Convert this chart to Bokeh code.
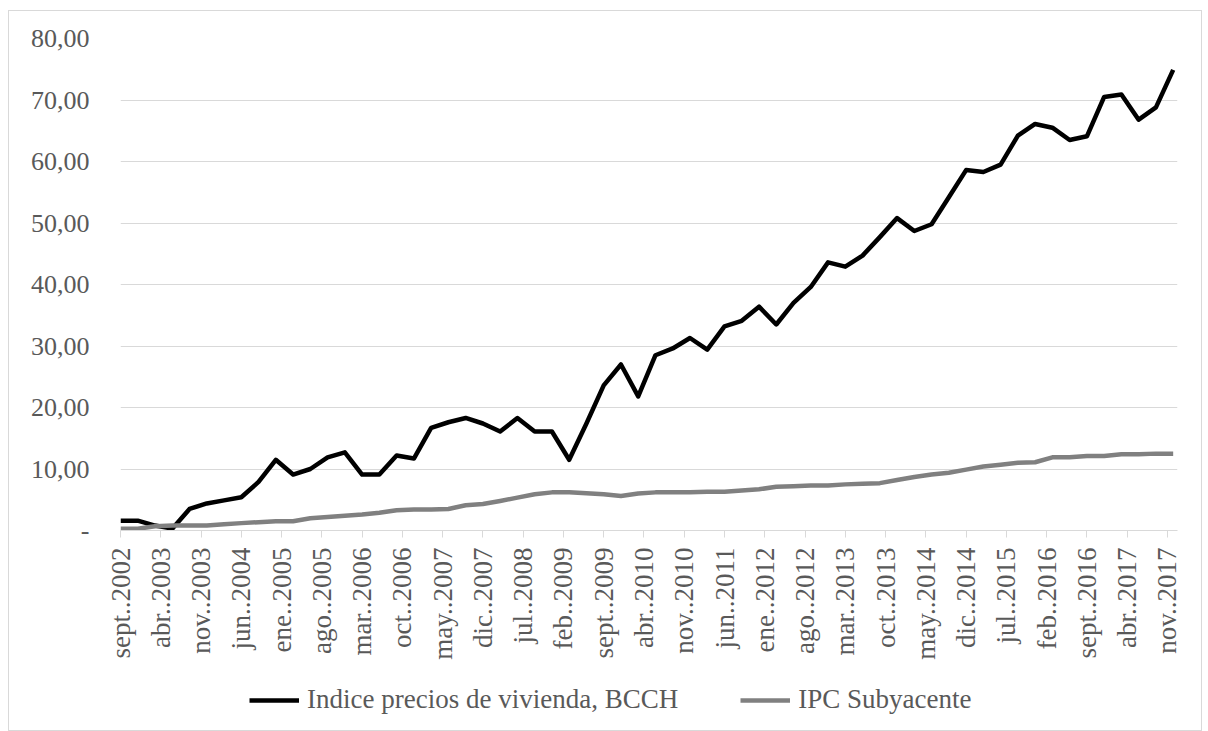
import pandas as pd
from bokeh.plotting import figure
from bokeh.layouts import column
from bokeh.models import Range1d, FixedTicker, Legend, LegendItem
from bokeh.embed import file_html
from bokeh.resources import INLINE

# Quarterly observations, sept 2002 .. dic 2017
fechas = pd.date_range("2002-09-01", "2017-12-01", freq="3MS")

vivienda = [1.6, 1.6, 0.8, 0.3, 3.5, 4.4, 4.9, 5.4, 7.9, 11.5,
            9.1, 10.0, 11.9, 12.7, 9.1, 9.1, 12.2, 11.7, 16.7, 17.6,
            18.3, 17.4, 16.1, 18.3, 16.1, 16.1, 11.5, 17.4, 23.6, 27.0,
            21.8, 28.5, 29.6, 31.3, 29.4, 33.2, 34.1, 36.4, 33.5, 37.0,
            39.6, 43.6, 42.9, 44.7, 47.7, 50.8, 48.7, 49.8, 54.2, 58.6,
            58.3, 59.5, 64.2, 66.1, 65.5, 63.5, 64.1, 70.5, 70.9, 66.8,
            68.8, 74.9]

ipc = [0.3, 0.3, 0.7, 0.8, 0.8, 0.8, 1.0, 1.2, 1.35, 1.5,
       1.5, 2.0, 2.2, 2.4, 2.6, 2.9, 3.3, 3.4, 3.4, 3.5,
       4.1, 4.3, 4.8, 5.35, 5.9, 6.2, 6.2, 6.05, 5.9, 5.6,
       6.0, 6.2, 6.2, 6.2, 6.3, 6.3, 6.5, 6.7, 7.1, 7.2,
       7.3, 7.3, 7.5, 7.6, 7.7, 8.2, 8.7, 9.1, 9.4, 9.9,
       10.4, 10.7, 11.0, 11.1, 11.9, 11.9, 12.1, 12.1, 12.4, 12.4,
       12.5, 12.5]

x_labels = ["sept..2002", "abr..2003", "nov..2003", "jun..2004", "ene..2005",
            "ago..2005", "mar..2006", "oct..2006", "may..2007", "dic..2007",
            "jul..2008", "feb..2009", "sept..2009", "abr..2010", "nov..2010",
            "jun..2011", "ene..2012", "ago..2012", "mar..2013", "oct..2013",
            "may..2014", "dic..2014", "jul..2015", "feb..2016", "sept..2016",
            "abr..2017", "nov..2017"]
tick_months = list(range(0, 7 * len(x_labels), 7))

y_ticks = [0, 10, 20, 30, 40, 50, 60, 70, 80]
y_labels = ["-", "10,00", "20,00", "30,00", "40,00", "50,00", "60,00", "70,00", "80,00"]

serie1 = "Indice precios de vivienda, BCCH"
serie2 = "IPC Subyacente"

x = [(d.year - 2002) * 12 + (d.month - 9) for d in fechas]

FONT = "Liberation Serif"
TXT = "#595959"
GRID = "#d9d9d9"
C1 = "black"
C2 = "#808080"
LW = 4.5

p = figure(width=1192, height=660, output_backend="svg", toolbar_location=None,
           x_range=Range1d(0, 183.75), y_range=Range1d(0, 80),
           min_border_left=111, min_border_right=24, min_border_top=27,
           min_border_bottom=141)
p.outline_line_color = None
p.background_fill_color = "white"
p.border_fill_color = "white"

r1 = p.line(x, vivienda, line_color=C1, line_width=LW, line_join="round")
r2 = p.line(x, ipc, line_color=C2, line_width=LW, line_join="round")

p.xgrid.grid_line_color = None
p.ygrid.grid_line_color = GRID
p.ygrid.grid_line_width = 1

xa = p.xaxis[0]
xa.ticker = FixedTicker(ticks=tick_months)
xa.major_label_overrides = {m: l for m, l in zip(tick_months, x_labels)}
xa.major_label_orientation = 1.5707963267948966
xa.axis_line_color = GRID
xa.major_tick_line_color = GRID
xa.major_tick_in = 0
xa.major_tick_out = 7
xa.minor_tick_line_color = None
xa.major_label_standoff = 10
xa.major_label_text_font = FONT
xa.major_label_text_font_size = "27px"
xa.major_label_text_color = TXT

ya = p.yaxis[0]
ya.ticker = FixedTicker(ticks=y_ticks)
ya.major_label_overrides = {t: l for t, l in zip(y_ticks, y_labels)}
ya.axis_line_color = None
ya.major_tick_line_color = None
ya.minor_tick_line_color = None
ya.major_tick_in = 0
ya.major_tick_out = 0
ya.major_label_standoff = 31
ya.major_label_text_font = FONT
ya.major_label_text_font_size = "26px"
ya.major_label_text_color = TXT

# Legend strip below the chart (series drawn outside its visible range,
# only their legend samples show)
pl = figure(width=1192, height=59, output_backend="svg", toolbar_location=None,
            x_range=Range1d(1000, 1001), y_range=Range1d(1000, 1001),
            x_axis_type=None, y_axis_type=None,
            min_border_left=0, min_border_right=0, min_border_top=0,
            min_border_bottom=0)
pl.outline_line_color = None
pl.xgrid.grid_line_color = None
pl.ygrid.grid_line_color = None
l1 = pl.line(x, vivienda, line_color=C1, line_width=LW)
l2 = pl.line(x, ipc, line_color=C2, line_width=LW)

legend = Legend(items=[LegendItem(label=serie1, renderers=[l1]),
                       LegendItem(label=serie2, renderers=[l2])],
                orientation="horizontal", location=(129, 15),
                label_text_font=FONT, label_text_font_size="27px",
                label_text_color=TXT, glyph_width=50, glyph_height=20,
                label_height=20, label_standoff=8, spacing=62,
                padding=0, margin=0, border_line_color=None,
                background_fill_alpha=0)
pl.add_layout(legend, "center")

layout = column(p, pl, spacing=0,
                styles={"border": "1px solid #d9d9d9", "margin-left": "8px",
                        "margin-top": "10px"})

open("out.html", "w").write(file_html(layout, INLINE))
